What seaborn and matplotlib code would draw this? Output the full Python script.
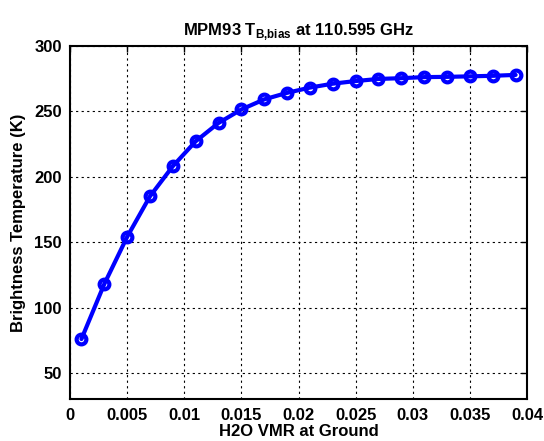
import matplotlib
matplotlib.use("Agg")
import matplotlib.pyplot as plt
import seaborn as sns
import pandas as pd
import numpy as np

vmr = [0.001, 0.003, 0.005, 0.007, 0.009, 0.011, 0.013, 0.015, 0.017, 0.019,
       0.021, 0.023, 0.025, 0.027, 0.029, 0.031, 0.033, 0.035, 0.037, 0.039]
tb = [76, 118, 154, 185, 208, 227, 241, 251.3, 259, 264,
      268, 271, 273, 274.6, 275.2, 276, 276.2, 276.6, 277, 277.7]
xticks = [0, 0.005, 0.01, 0.015, 0.02, 0.025, 0.03, 0.035, 0.04]
xticklabels = ["0", "0.005", "0.01", "0.015", "0.02", "0.025", "0.03", "0.035", "0.04"]
yticks = [50, 100, 150, 200, 250, 300]

sns.set_style("white")
plt.rcParams['font.family'] = ['Liberation Sans', 'DejaVu Sans']
plt.rcParams['font.weight'] = 'bold'
plt.rcParams['text.color'] = 'black'
plt.rcParams['axes.labelcolor'] = 'black'
plt.rcParams['xtick.color'] = 'black'
plt.rcParams['ytick.color'] = 'black'
plt.rcParams['mathtext.fontset'] = 'custom'
plt.rcParams['mathtext.bf'] = 'Liberation Sans:bold'
plt.rcParams['mathtext.rm'] = 'Liberation Sans:bold'

df = pd.DataFrame({"vmr": vmr, "tb": tb})

fig = plt.figure(figsize=(5.44, 4.41), dpi=100)
ax = fig.add_axes([0.1287, 0.0946, 0.9688 - 0.1287, 0.8964 - 0.0946])

sns.lineplot(data=df, x="vmr", y="tb", ax=ax, color="#0000ff", linewidth=3,
             marker="o", markersize=7, markerfacecolor="none",
             markeredgecolor="#0000ff", markeredgewidth=3)

ax.set_xlim(0, 0.04)
ax.set_ylim(30, 300)
ax.set_xticks(xticks)
ax.set_xticklabels(xticklabels)
ax.set_yticks(yticks)
ax.grid(True, color="black", linestyle=(0, (2, 3)), linewidth=0.8)
ax.tick_params(direction="in", length=4, width=1, top=True, right=True,
               labelsize=12, colors="black", labelcolor="black", pad=6)
for lbl in ax.get_xticklabels() + ax.get_yticklabels():
    lbl.set_fontweight("bold")
for s in ax.spines.values():
    s.set_color("black")
    s.set_linewidth(1.5)
    s.set_visible(True)

ax.set_xlabel("H2O VMR at Ground", fontsize=12, fontweight="bold", labelpad=1,
              color="black")
ax.set_ylabel("Brightness Temperature (K)", fontsize=12, fontweight="bold",
              labelpad=6, color="black")
ax.set_title(r"MPM93 T$_{\mathbf{B{,}bias}}$ at 110.595 GHz", fontsize=12,
             fontweight="bold", pad=8, color="black")

fig.savefig("out.png", dpi=100)
